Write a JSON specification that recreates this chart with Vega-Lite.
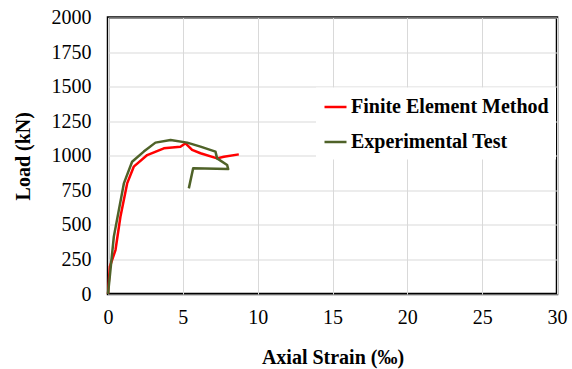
{
  "$schema": "https://vega.github.io/schema/vega-lite/v6.json",
  "width": 449,
  "height": 276.5,
  "autosize": {"type": "none"},
  "padding": {"left": 108, "top": 17.5, "right": 15, "bottom": 75},
  "background": "white",
  "config": {
    "font": "'Times New Roman', 'Liberation Serif', serif",
    "view": {"stroke": "black", "strokeWidth": 2.5},
    "axis": {
      "labelFont": "'Times New Roman', 'Liberation Serif', serif",
      "labelFontSize": 20,
      "labelColor": "black",
      "titleFont": "'Times New Roman', 'Liberation Serif', serif",
      "titleFontSize": 20,
      "titleFontWeight": "bold",
      "titleColor": "black",
      "gridColor": "#d9d9d9",
      "gridWidth": 1,
      "ticks": false,
      "domain": false,
      "format": "d"
    }
  },
  "data": {
    "values": [
      {"series": "Finite Element Method", "o": 1, "strain": 0.0, "load": 0},
      {"series": "Finite Element Method", "o": 2, "strain": 0.12, "load": 197},
      {"series": "Finite Element Method", "o": 3, "strain": 0.5, "load": 318},
      {"series": "Finite Element Method", "o": 4, "strain": 0.83, "load": 559},
      {"series": "Finite Element Method", "o": 5, "strain": 1.28, "load": 800},
      {"series": "Finite Element Method", "o": 6, "strain": 1.72, "load": 921},
      {"series": "Finite Element Method", "o": 7, "strain": 2.62, "load": 1005},
      {"series": "Finite Element Method", "o": 8, "strain": 3.73, "load": 1054},
      {"series": "Finite Element Method", "o": 9, "strain": 4.84, "load": 1065},
      {"series": "Finite Element Method", "o": 10, "strain": 5.18, "load": 1090},
      {"series": "Finite Element Method", "o": 11, "strain": 5.62, "load": 1042},
      {"series": "Finite Element Method", "o": 12, "strain": 6.18, "load": 1018},
      {"series": "Finite Element Method", "o": 13, "strain": 7.29, "load": 981},
      {"series": "Finite Element Method", "o": 14, "strain": 7.74, "load": 993},
      {"series": "Finite Element Method", "o": 15, "strain": 8.74, "load": 1010},
      {"series": "Experimental Test", "o": 1, "strain": 0.0, "load": 0},
      {"series": "Experimental Test", "o": 2, "strain": 0.39, "load": 415},
      {"series": "Experimental Test", "o": 3, "strain": 1.06, "load": 800},
      {"series": "Experimental Test", "o": 4, "strain": 1.61, "load": 957},
      {"series": "Experimental Test", "o": 5, "strain": 2.39, "load": 1030},
      {"series": "Experimental Test", "o": 6, "strain": 3.17, "load": 1095},
      {"series": "Experimental Test", "o": 7, "strain": 4.18, "load": 1114},
      {"series": "Experimental Test", "o": 8, "strain": 5.29, "load": 1095},
      {"series": "Experimental Test", "o": 9, "strain": 6.18, "load": 1066},
      {"series": "Experimental Test", "o": 10, "strain": 7.18, "load": 1030},
      {"series": "Experimental Test", "o": 11, "strain": 7.29, "load": 981},
      {"series": "Experimental Test", "o": 12, "strain": 7.96, "load": 933},
      {"series": "Experimental Test", "o": 13, "strain": 8.03, "load": 904},
      {"series": "Experimental Test", "o": 14, "strain": 5.69, "load": 909},
      {"series": "Experimental Test", "o": 15, "strain": 5.4, "load": 764}
    ]
  },
  "mark": {"type": "line", "strokeWidth": 2.5, "strokeJoin": "round"},
  "encoding": {
    "x": {
      "field": "strain", "type": "quantitative",
      "scale": {"domain": [0, 30], "nice": false},
      "axis": {"values": [0, 5, 10, 15, 20, 25, 30], "format": "d", "title": "Axial Strain (‰)", "labelPadding": 13, "titlePadding": 20, "labelFlush": false}
    },
    "y": {
      "field": "load", "type": "quantitative",
      "scale": {"domain": [0, 2000], "nice": false},
      "axis": {"values": [0, 250, 500, 750, 1000, 1250, 1500, 1750, 2000], "format": "d", "title": "Load (kN)", "labelPadding": 17, "titlePadding": 18, "labelFlush": false}
    },
    "order": {"field": "o", "type": "quantitative"},
    "color": {
      "field": "series", "type": "nominal",
      "scale": {"domain": ["Finite Element Method", "Experimental Test"], "range": ["#ff0000", "#4f6228"]},
      "legend": {
        "title": null,
        "orient": "none",
        "legendX": 208,
        "legendY": 70,
        "fillColor": "white",
        "padding": 7,
        "symbolType": "stroke",
        "symbolSize": 484,
        "symbolStrokeWidth": 2.5,
        "labelFont": "'Times New Roman', 'Liberation Serif', serif",
        "labelFontSize": 20,
        "labelFontWeight": "bold",
        "labelColor": "black",
        "labelOffset": 3,
        "rowPadding": 12,
        "labelLimit": 300
      }
    }
  }
}
